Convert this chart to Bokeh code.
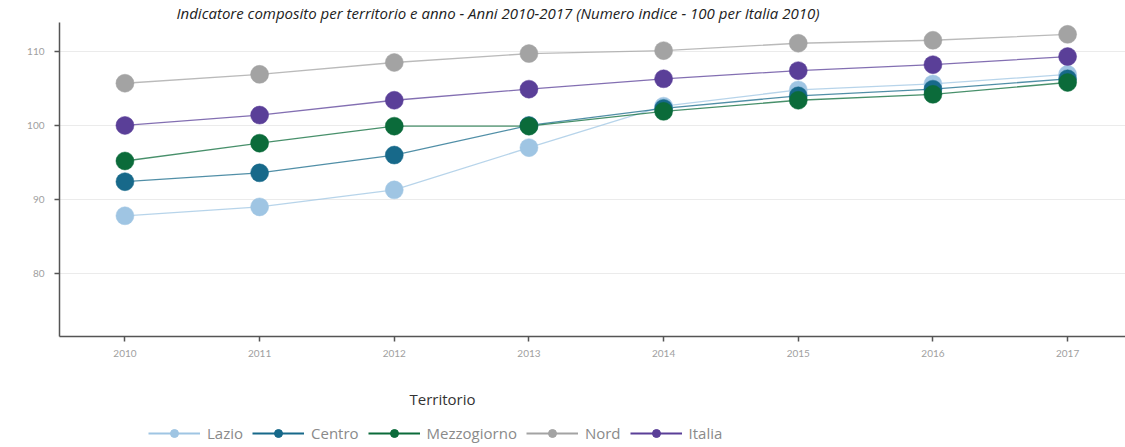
from bokeh.plotting import figure
from bokeh.layouts import column
from bokeh.models import Range1d, FixedTicker, Legend, LegendItem, Label
from bokeh.embed import file_html
from bokeh.resources import INLINE

years = [2010, 2011, 2012, 2013, 2014, 2015, 2016, 2017]
year_labels = ["2010", "2011", "2012", "2013", "2014", "2015", "2016", "2017"]
y_ticks = [80, 90, 100, 110]

series_names = ["Lazio", "Centro", "Mezzogiorno", "Nord", "Italia"]
lazio = [87.8, 89.0, 91.3, 97.0, 102.6, 104.8, 105.6, 106.9]
centro = [92.4, 93.6, 96.0, 100.0, 102.3, 104.0, 104.9, 106.3]
mezzogiorno = [95.2, 97.6, 99.9, 99.9, 101.9, 103.4, 104.2, 105.8]
nord = [105.7, 106.9, 108.5, 109.7, 110.1, 111.1, 111.5, 112.3]
italia = [100.0, 101.4, 103.4, 104.9, 106.3, 107.4, 108.2, 109.3]
series_colors = ["#9fc5e3", "#17698a", "#0b6b3a", "#a3a3a3", "#5a3f98"]

title_text = "Indicatore composito per territorio e anno - Anni 2010-2017 (Numero indice - 100 per Italia 2010)"
legend_title = "Territorio"

FONT = "Lato"
data = [lazio, centro, mezzogiorno, nord, italia]

# ---------------- main chart ----------------
p = figure(width=1125, height=375, frame_width=1066, frame_height=314,
           min_border_left=59, min_border_right=0, min_border_top=15, min_border_bottom=40,
           x_range=Range1d(2009.514, 2017.43), y_range=Range1d(71.5, 113.9),
           output_backend="svg", toolbar_location=None)
p.outline_line_color = None
p.background_fill_color = "white"
p.border_fill_color = "white"

p.title.text = title_text
p.title.align = "left"
p.title.offset = 117
p.title.standoff = 0
p.title.text_font = "Open Sans"
p.title.text_font_style = "italic"
p.title.text_font_size = "15px"
p.title.text_color = "#222222"

p.xgrid.grid_line_color = None
p.ygrid.grid_line_color = "#ebebeb"
p.ygrid.grid_line_width = 1
p.ygrid.ticker = FixedTicker(ticks=y_ticks)

p.xaxis.ticker = FixedTicker(ticks=years)
p.xaxis.major_label_overrides = {y: l for y, l in zip(years, year_labels)}
p.yaxis.ticker = FixedTicker(ticks=y_ticks)

for ax in (p.xaxis[0], p.yaxis[0]):
    ax.axis_line_color = "#555555"
    ax.axis_line_width = 1.5
    ax.major_tick_line_color = "#555555"
    ax.major_tick_line_width = 1.5
    ax.major_tick_out = 5
    ax.major_tick_in = 0
    ax.minor_tick_line_color = None
    ax.major_label_text_color = "#a0a0a0"
    ax.major_label_text_font = FONT
    ax.major_label_text_font_size = "10px"
p.xaxis.major_label_standoff = 8
p.yaxis.major_label_standoff = 10

for vals, col in zip(data, series_colors):
    p.line(years, vals, line_color=col, line_width=1.3, line_alpha=0.75)
for vals, col in zip(data, series_colors):
    p.scatter(years, vals, size=18, fill_color=col, line_color=col, line_width=0.5)

# ---------------- legend strip ----------------
LH = 72
q = figure(width=1125, height=LH, x_range=Range1d(59, 1125), y_range=Range1d(LH, 0),
           min_border=0, x_axis_location=None, y_axis_location=None,
           output_backend="svg", toolbar_location=None)
q.outline_line_color = None
q.xgrid.grid_line_color = None
q.ygrid.grid_line_color = None
q.background_fill_color = "white"
q.border_fill_color = "white"

lrs, prs = [], []
for vals, col in zip(data, series_colors):
    lrs.append(q.line(years, vals, line_color=col, line_width=2))
for vals, col in zip(data, series_colors):
    prs.append(q.scatter(years, vals, size=15, fill_color=col, line_color=col))

items = [LegendItem(label=n, renderers=[lr, pr]) for n, lr, pr in zip(series_names, lrs, prs)]
legend = Legend(items=items, orientation="horizontal", location=(89, 5),
                glyph_width=52, glyph_height=20, label_height=20, label_standoff=7,
                spacing=9, padding=0, margin=0,
                label_text_font="Open Sans", label_text_font_size="15px", label_text_color="#8a8a8a",
                border_line_color=None, background_fill_alpha=0)
q.add_layout(legend, "center")
q.add_layout(Label(x=442, y=22, text=legend_title, text_align="center", text_baseline="middle",
                   text_font="Open Sans", text_font_size="15px", text_color="#333333"))

layout = column(p, q, spacing=0)
open("out.html", "w").write(file_html(layout, INLINE))
